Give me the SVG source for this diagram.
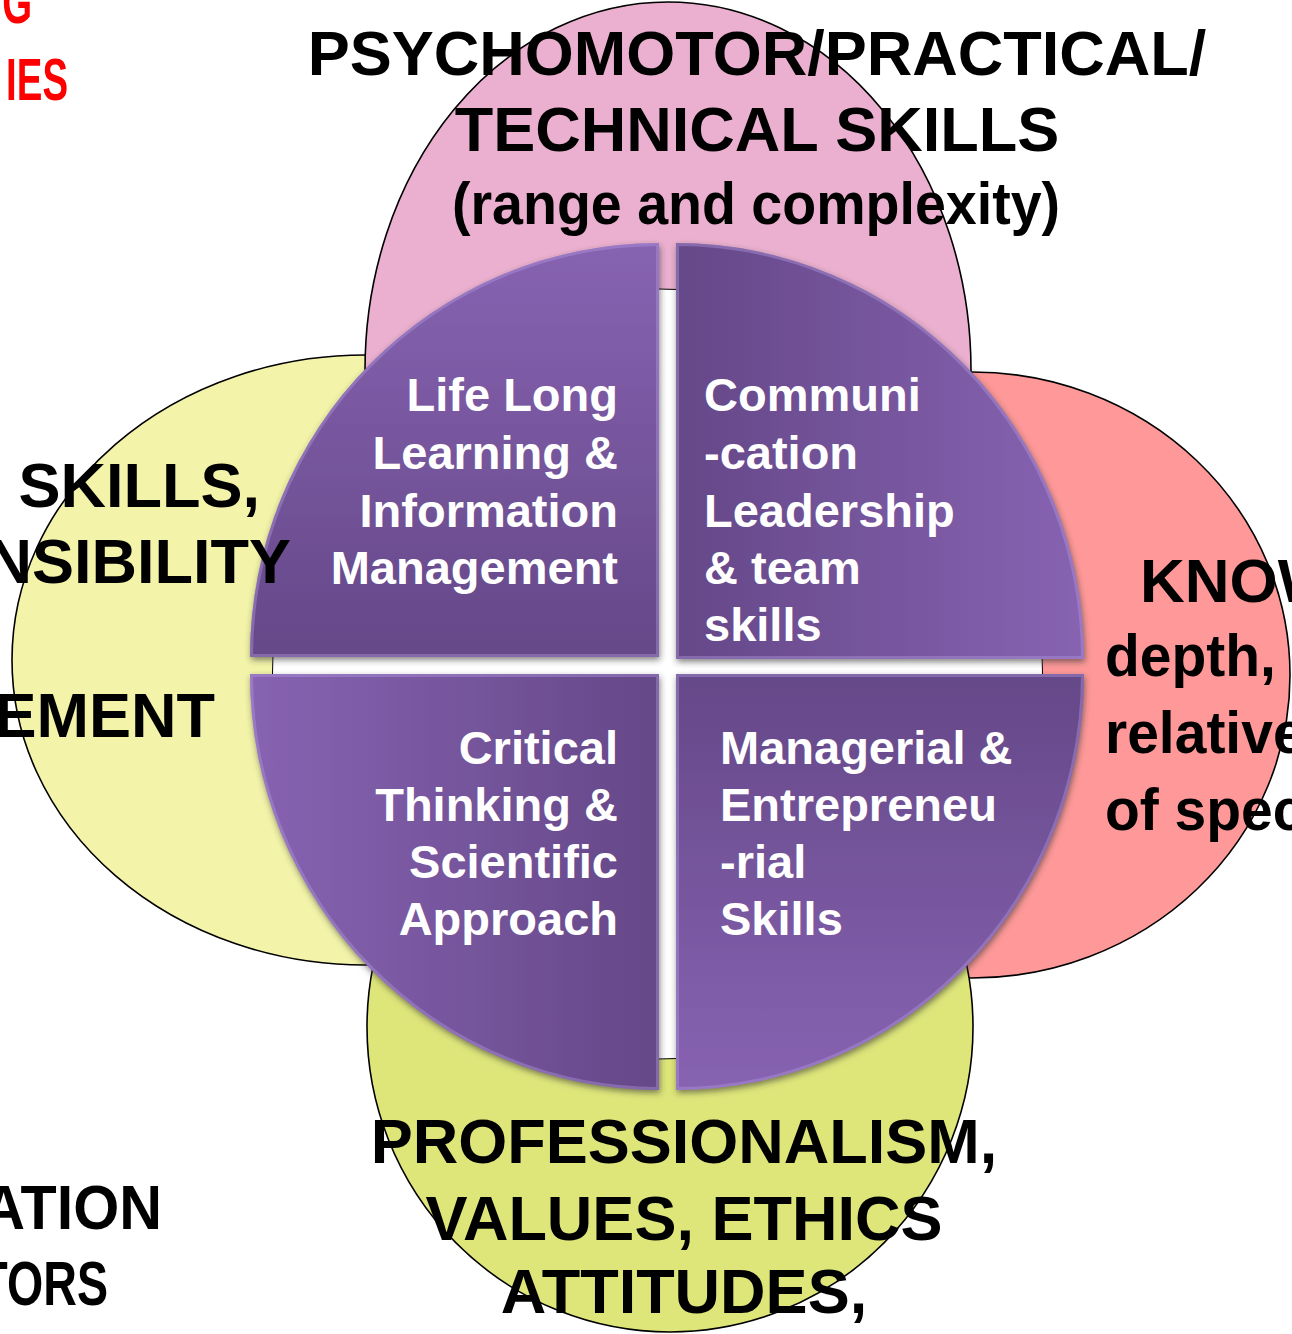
<svg xmlns="http://www.w3.org/2000/svg" width="1292" height="1334" viewBox="0 0 1292 1334">
<style>
.ell{stroke:#000;stroke-width:1.6}
.hd{font-family:"Liberation Sans",Arial,sans-serif;font-weight:bold;font-size:63px;fill:#000}
.cd{font-family:"Liberation Sans",Arial,sans-serif;font-weight:bold;font-size:60px;fill:#000}
.qt{font-family:"Liberation Sans",Arial,sans-serif;font-weight:bold;font-size:47px;fill:#fff}
.bev{fill:none;stroke:#b39ae0;stroke-width:6;stroke-opacity:.4}
</style>
<defs>
<linearGradient id="gTL" x1="0" y1="0" x2="0" y2="1"><stop offset="0" stop-color="#8763b2"/><stop offset="1" stop-color="#654888"/></linearGradient>
<linearGradient id="gTR" x1="0" y1="0" x2="1" y2="0"><stop offset="0" stop-color="#654888"/><stop offset="1" stop-color="#8763b2"/></linearGradient>
<linearGradient id="gBL" x1="0" y1="0" x2="1" y2="0"><stop offset="0" stop-color="#8763b2"/><stop offset="1" stop-color="#654888"/></linearGradient>
<linearGradient id="gBR" x1="0" y1="0" x2="0" y2="1"><stop offset="0" stop-color="#654888"/><stop offset="1" stop-color="#8763b2"/></linearGradient>
<filter id="sh" x="-10%" y="-10%" width="120%" height="120%">
<feGaussianBlur in="SourceAlpha" stdDeviation="3"/><feOffset dx="1" dy="3" result="b"/>
<feFlood flood-color="#333" flood-opacity=".6"/><feComposite in2="b" operator="in"/>
<feMerge><feMergeNode/><feMergeNode in="SourceGraphic"/></feMerge>
</filter>
<clipPath id="cTL"><path d="M659,657 L250,657 A409,414 0 0 1 659,243 Z"/></clipPath>
<clipPath id="cTR"><path d="M676,659 L676,243 A408,416 0 0 1 1084,659 Z"/></clipPath>
<clipPath id="cBL"><path d="M659,674 L659,1090 A409,416 0 0 1 250,674 Z"/></clipPath>
<clipPath id="cBR"><path d="M676,674 L1084,674 A408,416 0 0 1 676,1090 Z"/></clipPath>
</defs>
<rect width="1292" height="1334" fill="#fff"/>

<g id="ellipse-left"><ellipse class="ell" cx="365" cy="660" rx="353" ry="305" fill="#f3f4a9"/></g>
<g id="ellipse-right"><ellipse class="ell" cx="972" cy="675" rx="318" ry="303" fill="#ff9999"/></g>
<g id="ellipse-top"><ellipse class="ell" cx="668" cy="370" rx="303" ry="368" fill="#ebb0cf"/></g>
<g id="ellipse-bottom"><ellipse class="ell" cx="670" cy="1027" rx="303" ry="305" fill="#dee67a"/></g>

<g id="center-bg"><circle cx="657.5" cy="674" r="385" fill="#fff" stroke="#000" stroke-width="1"/></g>

<g id="q-tl">
<path d="M659,657 L250,657 A409,414 0 0 1 659,243 Z" fill="url(#gTL)" filter="url(#sh)"/>
<path class="bev" clip-path="url(#cTL)" d="M659,657 L250,657 A409,414 0 0 1 659,243 Z"/>
<text class="qt" text-anchor="end"><tspan x="618" y="411">Life Long</tspan><tspan x="618" y="469">Learning &amp;</tspan><tspan x="618" y="527">Information</tspan><tspan x="618" y="584">Management</tspan></text>
</g>
<g id="q-tr">
<path d="M676,659 L676,243 A408,416 0 0 1 1084,659 Z" fill="url(#gTR)" filter="url(#sh)"/>
<path class="bev" clip-path="url(#cTR)" d="M676,659 L676,243 A408,416 0 0 1 1084,659 Z"/>
<text class="qt"><tspan x="704" y="411">Communi</tspan><tspan x="704" y="469">-cation</tspan><tspan x="704" y="527">Leadership</tspan><tspan x="704" y="584">&amp; team</tspan><tspan x="704" y="641">skills</tspan></text>
</g>
<g id="q-bl">
<path d="M659,674 L659,1090 A409,416 0 0 1 250,674 Z" fill="url(#gBL)" filter="url(#sh)"/>
<path class="bev" clip-path="url(#cBL)" d="M659,674 L659,1090 A409,416 0 0 1 250,674 Z"/>
<text class="qt" text-anchor="end"><tspan x="618" y="764">Critical</tspan><tspan x="618" y="821">Thinking &amp;</tspan><tspan x="618" y="878">Scientific</tspan><tspan x="618" y="935">Approach</tspan></text>
</g>
<g id="q-br">
<path d="M676,674 L1084,674 A408,416 0 0 1 676,1090 Z" fill="url(#gBR)" filter="url(#sh)"/>
<path class="bev" clip-path="url(#cBR)" d="M676,674 L1084,674 A408,416 0 0 1 676,1090 Z"/>
<text class="qt"><tspan x="720" y="764">Managerial &amp;</tspan><tspan x="720" y="821">Entrepreneu</tspan><tspan x="720" y="878">-rial</tspan><tspan x="720" y="935">Skills</tspan></text>
</g>

<g id="label-top">
<text class="hd" text-anchor="middle" x="757" y="75">PSYCHOMOTOR/PRACTICAL/</text>
<text class="hd" text-anchor="middle" x="757" y="151">TECHNICAL SKILLS</text>
<text class="cd" text-anchor="middle" transform="translate(756,224) scale(0.926,1)">(range and complexity)</text>
</g>
<g id="label-left">
<text class="hd" text-anchor="end" x="260" y="507">SKILLS,</text>
<text class="hd" text-anchor="end" x="291" y="583">NSIBILITY</text>
<text class="hd" text-anchor="end" x="215" y="737">EMENT</text>
</g>
<g id="label-right">
<text class="hd" x="1140" y="602" style="font-size:62px">KNOW</text>
<text class="cd" transform="translate(1105,676) scale(0.95,1)">depth,</text>
<text class="cd" transform="translate(1105,753) scale(0.95,1)">relative</text>
<text class="cd" transform="translate(1105,830) scale(0.95,1)">of spec</text>
</g>
<g id="label-bottom">
<text class="hd" text-anchor="middle" x="684" y="1163">PROFESSIONALISM,</text>
<text class="hd" text-anchor="middle" x="684" y="1240">VALUES, ETHICS</text>
<text class="hd" text-anchor="middle" x="684" y="1313">ATTITUDES,</text>
</g>
<g id="label-topleft-red">
<text class="cd" text-anchor="end" style="fill:#ff0000" transform="translate(32,23) scale(0.64,1)">G</text>
<text class="cd" text-anchor="end" style="fill:#ff0000" transform="translate(68,100) scale(0.64,1)">IES</text>
</g>
<g id="label-bottomleft">
<text class="cd" text-anchor="end" style="font-size:63px" transform="translate(162,1229) scale(0.94,1)">ATION</text>
<text class="cd" text-anchor="end" style="font-size:63px" transform="translate(108,1305) scale(0.74,1)">TORS</text>
</g>
<g id="connectors"></g>
</svg>
